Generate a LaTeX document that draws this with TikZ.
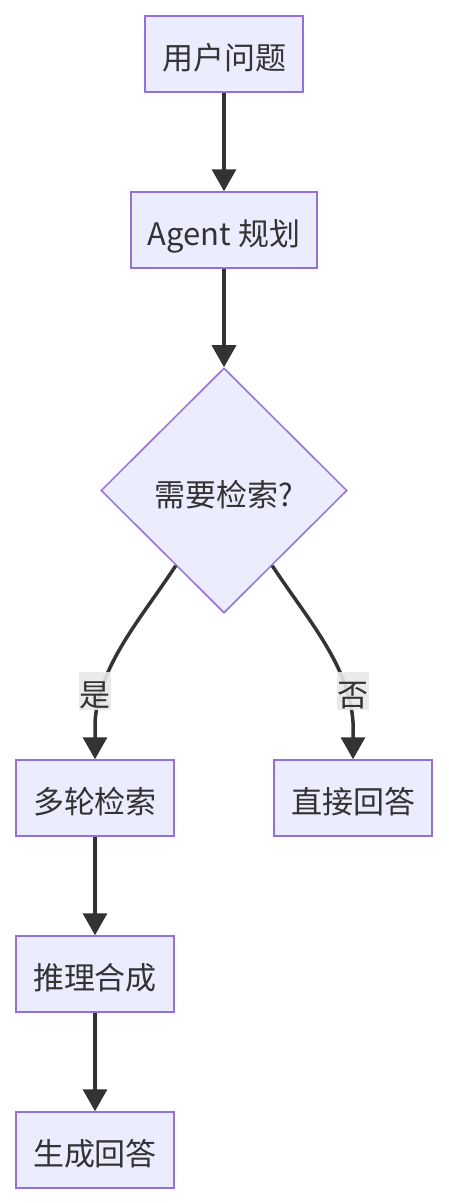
\documentclass[tikz,border=0pt]{standalone}
\usepackage{fontspec}
\setmainfont{Noto Sans CJK SC}
\usetikzlibrary{shapes.geometric,arrows.meta,calc}
\definecolor{nodefill}{HTML}{ECECFF}
\definecolor{nodeline}{HTML}{9370DB}
\definecolor{edgecol}{HTML}{333333}
\definecolor{lblfill}{HTML}{E8E8E8}
\definecolor{textcol}{HTML}{333333}
\begin{document}
\begin{tikzpicture}[x=1pt,y=-1pt,
  font=\fontsize{31}{36}\selectfont,
  txt/.style={text height=31.5pt, text depth=0pt},
  box/.style={draw=nodeline, fill=nodefill, line width=1.5pt, minimum height=76pt, minimum width=158pt, inner sep=0pt, text=textcol, txt},
  decision/.style={diamond, draw=nodeline, fill=nodefill, line width=1.5pt, minimum width=246pt, minimum height=245pt, inner sep=0pt, text=textcol, txt},
  edge/.style={draw=edgecol, line width=3.5pt, -{Triangle[length=22pt,width=24pt]}},
  lbl/.style={fill=lblfill, fill opacity=0.9, text opacity=1, text=textcol, minimum width=32pt, minimum height=38pt, inner sep=0pt, txt}]
\useasboundingbox (0,0) rectangle (448,1203);
\node[box] (q) at (224,54) {用户问题};
\node[box, minimum width=186pt] (a) at (224,230) {Agent 规划};
\node[decision] (d) at (224,490.5) {需要检索?};
\node[box] (m) at (95,798) {多轮检索};
\node[box] (r) at (353,798) {直接回答};
\node[box] (s) at (95,974) {推理合成};
\node[box] (g) at (95,1150) {生成回答};
\coordinate (ls) at ($(d.west)!0.61!(d.south)$);
\coordinate (rs) at ($(d.east)!0.61!(d.south)$);
\draw[edge] (q) -- (a);
\draw[edge] (a) -- (d);
\draw[edge] (ls) .. controls (140,620) and (99,665) .. (95,722) -- (m.north);
\draw[edge] (rs) .. controls (308,620) and (349,665) .. (353,722) -- (r.north);
\draw[edge] (m) -- (s);
\draw[edge] (s) -- (g);
\node[lbl] (yes) at (95,691) {是};
\node[lbl] (no) at (353,691) {否};
\end{tikzpicture}
\end{document}
